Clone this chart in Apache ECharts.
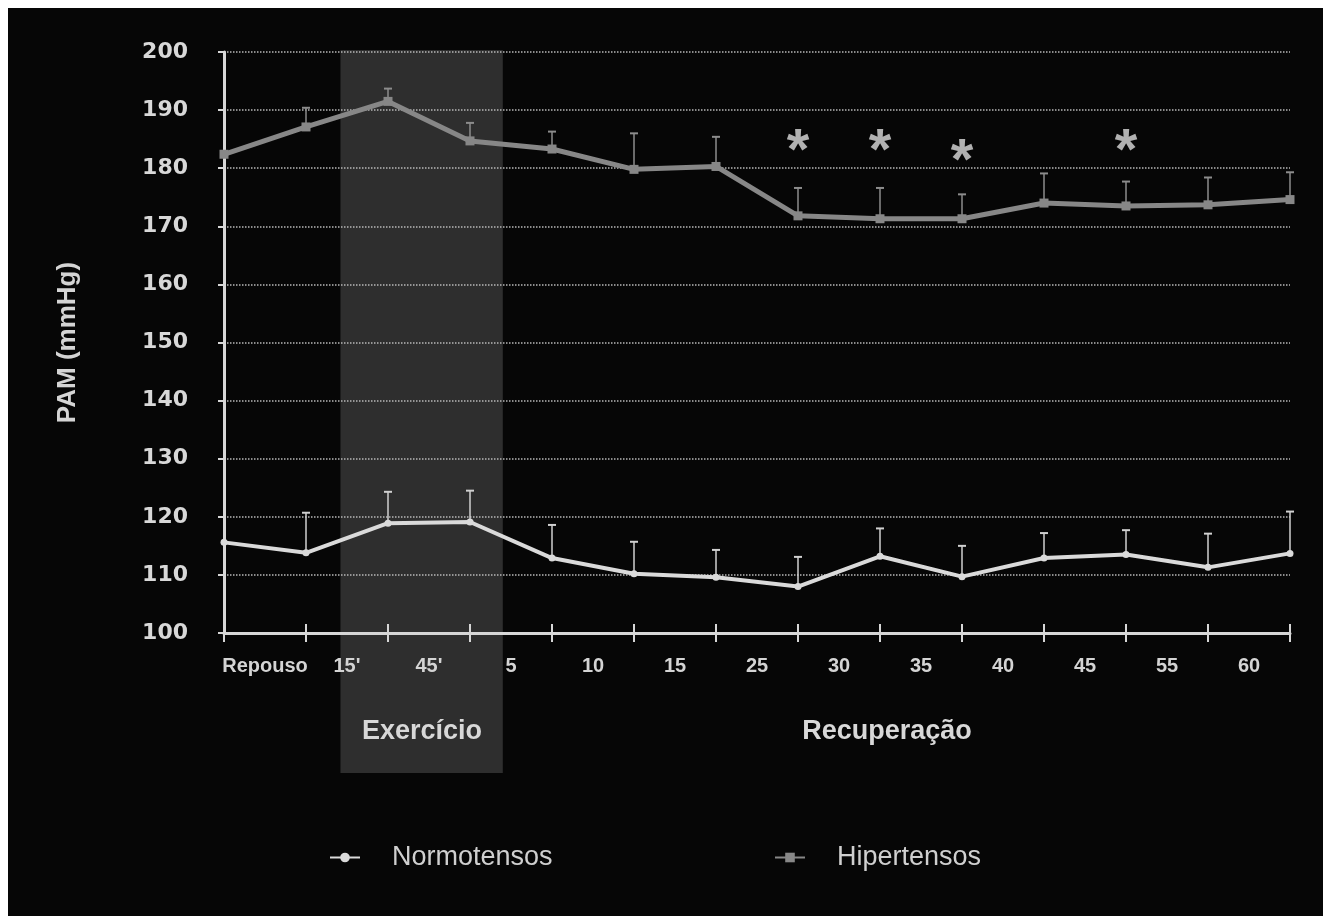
<!DOCTYPE html>
<html>
<head>
<meta charset="utf-8">
<script src="https://cdn.jsdelivr.net/npm/echarts@6/dist/echarts.min.js"></script>
<style>
  html, body { margin: 0; padding: 0; background: #ffffff; }
  #chart { position: absolute; left: 8px; top: 8px; width: 1315px; height: 908px; background: #060606; }
</style>
</head>
<body>
<div id="chart"></div>
<script>
// Labels written between the measurement ticks
const periodLabels = ['Repouso', "15'", "45'", '5', '10', '15', '25', '30', '35', '40', '45', '55', '60'];

// Mean arterial pressure (mmHg) at each of the 14 measurement points
const normoMean  = [115.6, 113.8, 118.9, 119.1, 112.9, 110.2, 109.6, 108.0, 113.2, 109.7, 112.9, 113.5, 111.3, 113.7];
const normoUpper = [null, 120.7, 124.3, 124.5, 118.6, 115.7, 114.3, 113.1, 118.0, 115.0, 117.2, 117.7, 117.1, 120.9];
const hiperMean  = [182.4, 187.1, 191.5, 184.7, 183.3, 179.8, 180.3, 171.8, 171.3, 171.3, 174.0, 173.5, 173.7, 174.6];
const hiperUpper = [null, 190.4, 193.7, 187.8, 186.3, 186.0, 185.4, 176.6, 176.6, 175.5, 179.1, 177.7, 178.4, 179.3];

// Points where the hypertensive group differs significantly from rest
const sigIndex = [7, 8, 9, 11];
const sigLevel = [184.8, 184.8, 183.2, 184.8];

// Exercise period, in measurement-point units
const exerciseSpan = [1.42, 3.4];

const FONT = '"Liberation Sans", Arial, sans-serif';
const NUM_FONT = '"DejaVu Sans", "Liberation Sans", sans-serif';

function pairs(values) {
  return values.map((v, i) => [i, v]);
}
function errorData(mean, upper) {
  const out = [];
  mean.forEach((m, i) => { if (upper[i] != null) out.push([i, m, upper[i]]); });
  return out;
}
function errorBarRender(color) {
  return function (params, api) {
    const base = api.coord([api.value(0), api.value(1)]);
    const top = api.coord([api.value(0), api.value(2)]);
    const cap = 4;
    return {
      type: 'group',
      children: [
        { type: 'line', shape: { x1: base[0], y1: base[1], x2: top[0], y2: top[1] },
          style: { stroke: color, lineWidth: 1.5 } },
        { type: 'line', shape: { x1: top[0] - cap, y1: top[1], x2: top[0] + cap, y2: top[1] },
          style: { stroke: color, lineWidth: 2 } }
      ]
    };
  };
}

const chart = echarts.init(document.getElementById('chart'));

chart.setOption({
  backgroundColor: '#060606',
  animation: false,
  grid: { left: 216, right: 33, top: 44, bottom: 283, containLabel: false },
  xAxis: [
    {
      type: 'value', min: 0, max: 13, interval: 1, position: 'bottom',
      axisLine: { show: true, onZero: false, lineStyle: { color: '#d6d6d6', width: 3 } },
      axisTick: { show: true, inside: false, length: 9, lineStyle: { color: '#d6d6d6', width: 2 } },
      axisLabel: { show: false },
      splitLine: { show: false }
    },
    {
      type: 'value', min: 0, max: 13, interval: 1, position: 'bottom',
      axisLine: { show: false, onZero: false },
      axisTick: { show: true, inside: true, length: 9, lineStyle: { color: '#d6d6d6', width: 2 } },
      axisLabel: { show: false },
      splitLine: { show: false }
    },
    {
      type: 'category', data: periodLabels, boundaryGap: true, position: 'bottom',
      axisLine: { show: false, onZero: false }, axisTick: { show: false },
      axisLabel: { show: true, margin: 23, color: '#d4d4d4', fontFamily: FONT, fontWeight: 'bold', fontSize: 20, interval: 0 },
      splitLine: { show: false }
    }
  ],
  yAxis: {
    type: 'value', min: 100, max: 200, interval: 10,
    name: 'PAM (mmHg)', nameLocation: 'middle', nameRotate: 90, nameGap: 143,
    nameTextStyle: { color: '#d4d4d4', fontFamily: FONT, fontWeight: 'bold', fontSize: 26 },
    axisLine: { show: true, lineStyle: { color: '#d6d6d6', width: 3 } },
    axisTick: { show: true, inside: false, length: 6, lineStyle: { color: '#d6d6d6', width: 2 } },
    axisLabel: { margin: 36, color: '#d8d8d8', fontFamily: NUM_FONT, fontWeight: 'bold', fontSize: 22 },
    splitLine: { show: true, lineStyle: { color: '#b8b8b8', type: 'dotted', width: 1.5 } }
  },
  legend: [
    {
      data: ['Normotensos'], left: 316, top: 831, itemWidth: 30, itemHeight: 12, itemGap: 0,
      textStyle: { color: '#cfcfcf', fontFamily: FONT, fontSize: 27, padding: [0, 0, 0, 27] }
    },
    {
      data: ['Hipertensos'], left: 761, top: 831, itemWidth: 30, itemHeight: 12, itemGap: 0,
      textStyle: { color: '#cfcfcf', fontFamily: FONT, fontSize: 27, padding: [0, 0, 0, 27] }
    }
  ],
  graphic: [
    { type: 'text', x: 414, y: 724, z: 5,
      style: { text: 'Exercício', fill: '#d8d8d8', font: 'bold 27px ' + FONT, align: 'center', verticalAlign: 'middle' } },
    { type: 'text', x: 879, y: 724, z: 5,
      style: { text: 'Recuperação', fill: '#d8d8d8', font: 'bold 27px ' + FONT, align: 'center', verticalAlign: 'middle' } }
  ],
  series: [
    {
      // shaded exercise period, reaching below the axis to hold its caption
      type: 'custom', name: 'band', xAxisIndex: 0, z: -10, silent: true, clip: false,
      data: [exerciseSpan],
      renderItem: function (params, api) {
        const x0 = api.coord([api.value(0), 200])[0];
        const x1 = api.coord([api.value(1), 200])[0];
        const cs = params.coordSys;
        return { type: 'rect', shape: { x: x0, y: cs.y - 2, width: x1 - x0, height: cs.height + 142 },
                 style: { fill: '#2e2e2e' } };
      }
    },
    {
      name: 'Hipertensos', type: 'line', xAxisIndex: 0, data: pairs(hiperMean),
      symbol: 'rect', symbolSize: 9, z: 3,
      itemStyle: { color: '#878787' },
      lineStyle: { color: '#878787', width: 5 }
    },
    {
      name: 'Normotensos', type: 'line', xAxisIndex: 0, data: pairs(normoMean),
      symbol: 'circle', symbolSize: 7, z: 3,
      itemStyle: { color: '#dadada' },
      lineStyle: { color: '#dadada', width: 4 }
    },
    {
      type: 'custom', name: 'hiperErr', xAxisIndex: 0, z: 2,
      data: errorData(hiperMean, hiperUpper), renderItem: errorBarRender('#8c8c8c')
    },
    {
      type: 'custom', name: 'normoErr', xAxisIndex: 0, z: 2,
      data: errorData(normoMean, normoUpper), renderItem: errorBarRender('#d0d0d0')
    },
    {
      type: 'scatter', name: 'sig', xAxisIndex: 0, symbolSize: 1, z: 4,
      itemStyle: { color: 'rgba(0,0,0,0)' },
      data: sigIndex.map((x, i) => [x, sigLevel[i]]),
      label: { show: true, position: 'inside', formatter: '*', offset: [0, 13],
               color: '#dcdcdc', fontFamily: FONT, fontWeight: 'bold', fontSize: 58 }
    }
  ]
});
</script>
</body>
</html>
